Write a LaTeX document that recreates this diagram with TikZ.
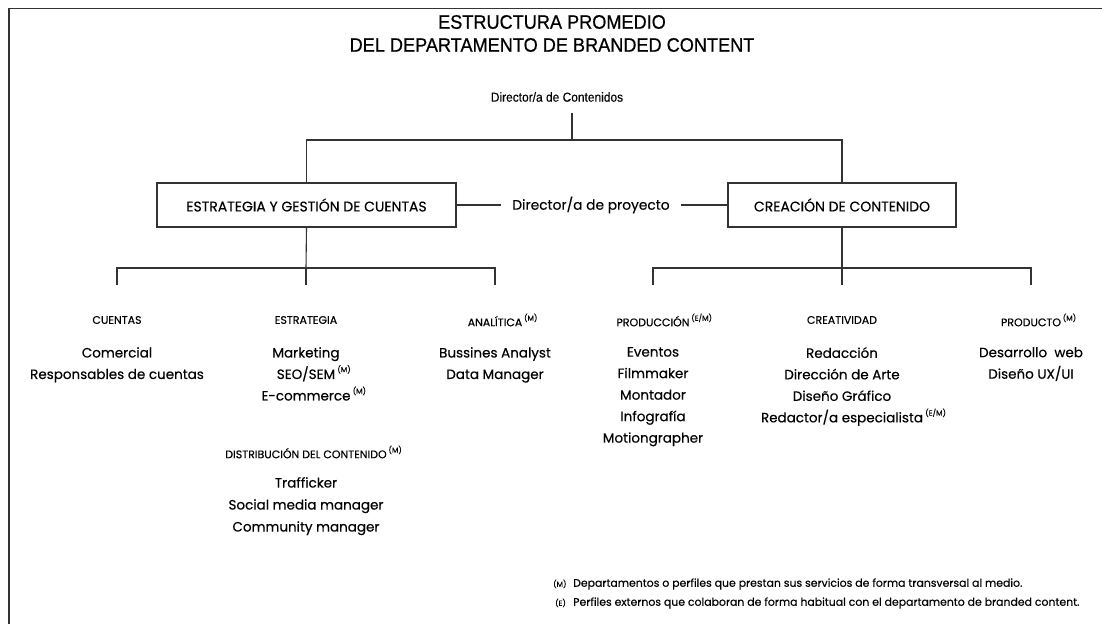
\documentclass[tikz,border=0pt]{standalone}
\usepackage{fontspec}
\setmainfont{Poppins}[FakeBold=0.3]
\newfontfamily\titlefont[FakeBold=0.6]{Liberation Sans}
\newfontfamily\dirfont[FakeBold=0.2]{Liberation Sans}
\tikzset{
  frameline/.style={line width=1.6pt, draw=black!80},
  conn/.style={line width=1.1pt, draw=black!80},
  unitbox/.style={draw=black!80, line width=1.1pt, minimum height=44pt, inner xsep=0pt, font=\fontsize{14}{16}\selectfont},
  ttl/.style={font=\titlefont\fontsize{19.5}{21}\selectfont, inner sep=0pt},
  dirtxt/.style={font=\dirfont\fontsize{13}{14}\selectfont, inner sep=0pt},
  lbl/.style={font=\fontsize{13.8}{15}\selectfont, inner ysep=0pt, inner xsep=11pt},
  hdr/.style={font=\fontsize{11}{12}\selectfont, inner sep=0pt},
  items/.style={font=\fontsize{13.5}{21.5}\selectfont, align=center, anchor=north, inner sep=0pt},
  note/.style={font=\fontsize{10.9}{13}\selectfont, anchor=west, inner sep=0pt}
}
\newcommand{\supm}[1]{\,\raisebox{0.5em}{\fontsize{7.5}{8}\selectfont(#1)}}
\newcommand{\hsup}[2]{\sbox0{#1}\makebox[\wd0][c]{\usebox0}\makebox[0pt][l]{\supm{#2}}}
\begin{document}
\begin{tikzpicture}[x=1pt,y=-1pt]
\useasboundingbox (0,0) rectangle (1102,624);
\draw[frameline] (9,624) -- (9,8.5) -- (1102,8.5);

\node[ttl] (t1) at (552,22) {\scalebox{0.93}[1]{ESTRUCTURA PROMEDIO}};
\node[ttl] (t2) at (552,45) {\scalebox{0.93}[1]{DEL DEPARTAMENTO DE BRANDED CONTENT}};
\node[dirtxt] (dc) at (557,97) {\scalebox{0.92}[1]{Director/a de Contenidos}};

\coordinate (c0) at (572,113);
\coordinate (j0) at (572,140);

\node[unitbox, minimum width=299pt] (b1) at (306.5,205) {ESTRATEGIA Y GESTIÓN DE CUENTAS};
\node[unitbox, minimum width=228pt] (b2) at (842,205) {CREACIÓN DE CONTENIDO};
\node[lbl] (dp) at (591,205) {Director/a de proyecto};

\draw[conn] (c0) -- (j0);
\draw[conn] (b1.north) |- (j0) -| (b2.north);
\draw[conn] (b1.east) -- (dp.west);
\draw[conn] (dp.east) -- (b2.west);

% left branch
\coordinate (l0) at (306,268);
\coordinate (la) at (117,285);
\coordinate (lb) at (306,285);
\coordinate (lc) at (495,285);
\draw[conn] (b1.south) -- (l0);
\draw[conn] (la) |- (l0) -| (lc);
\draw[conn] (l0) -- (lb);

% right branch
\coordinate (r0) at (842,268);
\coordinate (ra) at (653,285);
\coordinate (rb) at (842,285);
\coordinate (rc) at (1031,285);
\draw[conn] (b2.south) -- (r0);
\draw[conn] (ra) |- (r0) -| (rc);
\draw[conn] (r0) -- (rb);

% headers
\node[hdr] (h1) at (117,320) {CUENTAS};
\node[hdr] (h2) at (306,320) {ESTRATEGIA};
\node[hdr] (h3) at (495,320) {\hsup{ANALÍTICA}{M}};
\node[hdr] (h4) at (653,320) {\hsup{PRODUCCIÓN}{E/M}};
\node[hdr] (h5) at (842,320) {CREATIVIDAD};
\node[hdr] (h6) at (1031,320) {\hsup{PRODUCTO}{M}};
\node[hdr] (h7) at (306,452) {\hsup{DISTRIBUCIÓN DEL CONTENIDO}{M}};

% items
\node[items] (i1) at (117,347) {Comercial\\Responsables de cuentas};
\node[items] (i2) at (306,347) {Marketing\\\hsup{SEO/SEM}{M}\\\hsup{E-commerce}{M}};
\node[items] (i3) at (495,347) {Bussines Analyst\\Data Manager};
\node[items] (i4) at (653,347) {Eventos\\Filmmaker\\Montador\\Infografía\\Motiongrapher};
\node[items] (i5) at (842,347) {Redacción\\Dirección de Arte\\Diseño Gráfico\\\hsup{Redactor/a especialista}{E/M}};
\node[items] (i6) at (1031,347) {Desarrollo\ \ web\\Diseño UX/UI};
\node[items, font=\fontsize{13.5}{22}\selectfont] (i7) at (306,477) {Trafficker\\Social media manager\\Community manager};

% notes
\node[note] (n1) at (553,584) {\makebox[20pt][l]{\fontsize{7.5}{8}\selectfont(M)}Departamentos o perfiles que prestan sus servicios de forma transversal al medio.};
\node[note] (n2) at (555,603) {\makebox[18pt][l]{\fontsize{7.5}{8}\selectfont(E)}Perfiles externos que colaboran de forma habitual con el departamento de branded content.};
\end{tikzpicture}
\end{document}
